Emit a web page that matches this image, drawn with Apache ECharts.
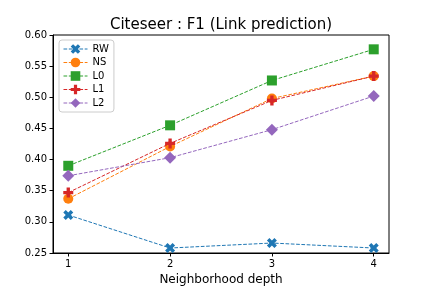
<!DOCTYPE html>
<html><head><meta charset="utf-8">
<script src="https://cdn.jsdelivr.net/npm/echarts@6/dist/echarts.min.js"></script>
<style>html,body{margin:0;padding:0;background:#fff}#c{width:432px;height:288px}</style>
</head><body><div id="c"></div>
<script>
const depths = [1, 2, 3, 4];
const RW = [0.311, 0.258, 0.266, 0.258];
const NS = [0.337, 0.421, 0.498, 0.534];
const L0 = [0.390, 0.455, 0.527, 0.577];
const L1 = [0.347, 0.426, 0.495, 0.534];
const L2 = [0.374, 0.403, 0.448, 0.502];
const seriesNames = ['RW', 'NS', 'L0', 'L1', 'L2'];
const yTicks = [0.25, 0.30, 0.35, 0.40, 0.45, 0.50, 0.55, 0.60];

const colors = ['#1f77b4', '#ff7f0e', '#2ca02c', '#d62728', '#9467bd'];
const plusPath = 'path://M-1,-3H1V-1H3V1H1V3H-1V1H-3V-1H-1Z';
const xPath = 'path://M-1.5,-3L0,-1.5L1.5,-3L3,-1.5L1.5,0L3,1.5L1.5,3L0,1.5L-1.5,3L-3,1.5L-1.5,0L-3,-1.5Z';
const symbols = [xPath, 'circle', 'rect', plusPath, 'diamond'];
const sizes = [10, 10, 10, 10, 12];
const values = [RW, NS, L0, L1, L2];
const font = 'DejaVu Sans';

const series = seriesNames.map((n, i) => ({
  name: n, type: 'line',
  data: depths.map((d, j) => [d, values[i][j]]),
  symbol: symbols[i], symbolSize: sizes[i], showSymbol: true,
  itemStyle: { color: colors[i] },
  lineStyle: { color: colors[i], width: 1, type: [3.7, 1.6] },
  z: 2 + i, emphasis: { disabled: true }, animation: false
}));

const chart = echarts.init(document.getElementById('c'));
chart.setOption({
  animation: false,
  graphic: [{
    type: 'text', x: 221, y: 25,
    style: { text: 'Citeseer : F1 (Link prediction)', font: '15px "DejaVu Sans"', fill: '#000', textAlign: 'center', textVerticalAlign: 'middle' }
  }],
  grid: { left: 53, right: 43, top: 35, bottom: 35, outerBoundsMode: 'none', containLabel: false, show: true, borderColor: '#000', borderWidth: 1, backgroundColor: 'transparent' },
  legend: {
    orient: 'vertical', left: 59, top: 40, itemWidth: 24, itemHeight: 12, itemGap: 3.5,
    padding: [4, 5, 4, 4],
    backgroundColor: '#fff', borderColor: '#ccc', borderWidth: 1, borderRadius: 3,
    lineStyle: { width: 1, type: [3.7, 1.6] },
    textStyle: { fontFamily: font, fontSize: 10, color: '#000' },
    data: seriesNames
  },
  xAxis: {
    type: 'value', min: 0.85, max: 4.15,
    name: 'Neighborhood depth', nameLocation: 'middle', nameGap: 21,
    nameTextStyle: { fontFamily: font, fontSize: 12, color: '#000' },
    axisLine: { show: true, lineStyle: { color: '#000' } },
    axisTick: { show: true, length: 3.5, lineStyle: { color: '#000' }, customValues: depths },
    axisLabel: { fontFamily: font, fontSize: 10, color: '#000', margin: 6, customValues: depths, formatter: v => String(v) },
    splitLine: { show: false }
  },
  yAxis: {
    type: 'value', min: 0.25, max: 0.60,
    axisLine: { show: true, lineStyle: { color: '#000' } },
    axisTick: { show: true, length: 3.5, lineStyle: { color: '#000' }, customValues: yTicks },
    axisLabel: { fontFamily: font, fontSize: 10, color: '#000', margin: 6, customValues: yTicks, formatter: v => v.toFixed(2) },
    splitLine: { show: false }
  },
  series: series
});
</script></body></html>
